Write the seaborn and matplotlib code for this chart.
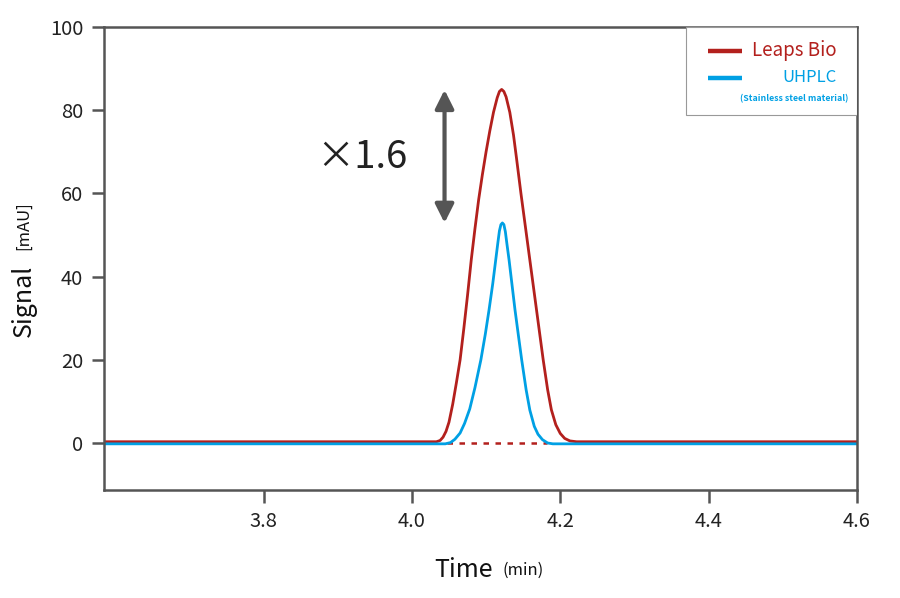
import numpy as np
import pandas as pd
import matplotlib
matplotlib.use("Agg")
import matplotlib.pyplot as plt
import seaborn as sns
from matplotlib.patches import Rectangle

# Data
leaps_time = [3.585, 4.033, 4.038, 4.042, 4.046, 4.050, 4.055, 4.060, 4.065, 4.070, 4.075,
              4.080, 4.085, 4.090, 4.095, 4.100, 4.105, 4.110, 4.115, 4.118, 4.121, 4.124,
              4.127, 4.132, 4.137, 4.141, 4.147, 4.153, 4.159, 4.165, 4.171, 4.177, 4.183,
              4.188, 4.194, 4.200, 4.206, 4.213, 4.222, 4.600]
leaps_signal = [0.3, 0.3, 0.6, 1.4, 2.8, 5.0, 9.3, 14.5, 20.0, 27.5, 35.5,
                44.0, 51.5, 58.5, 64.5, 70.0, 75.0, 79.5, 83.0, 84.5, 85.0, 84.5,
                83.2, 79.5, 74.0, 68.5, 60.0, 52.0, 44.0, 36.0, 28.0, 20.0, 12.8,
                8.0, 4.4, 2.3, 1.1, 0.5, 0.3, 0.3]

uhplc_time = [3.585, 4.045, 4.052, 4.058, 4.065, 4.071, 4.078, 4.085, 4.093, 4.099,
              4.104, 4.109, 4.113, 4.116, 4.118, 4.120, 4.122, 4.124, 4.126, 4.128,
              4.131, 4.135, 4.139, 4.144, 4.148, 4.154, 4.159, 4.165, 4.170, 4.176,
              4.183, 4.190, 4.600]
uhplc_signal = [-0.2, -0.2, 0.1, 0.9, 2.4, 4.7, 8.2, 13.3, 20.0, 26.2,
                32.0, 38.3, 44.0, 48.3, 51.0, 52.5, 52.9, 52.5, 50.8, 48.0,
                44.0, 38.0, 32.0, 25.3, 20.0, 12.8, 7.9, 4.0, 2.1, 0.8,
                0.0, -0.2, -0.2]

baseline_time = [4.047, 4.182]
baseline_signal = [0.0, 0.0]

x_ticks = [3.8, 4.0, 4.2, 4.4, 4.6]
y_ticks = [0, 20, 40, 60, 80, 100]
ratio_label = "×1.6"

red = "#b3201d"
blue = "#00a0e4"
grey = "#555555"

sns.set_style("ticks")
plt.rcParams["font.family"] = ["Noto Sans CJK JP", "DejaVu Sans"]

fig = plt.figure(figsize=(9, 5.98), dpi=100)
ax = fig.add_axes([0.1156, 0.1806, 0.8366, 0.7742])

df_leaps = pd.DataFrame({"Time": leaps_time, "Signal": leaps_signal})
df_uhplc = pd.DataFrame({"Time": uhplc_time, "Signal": uhplc_signal})
df_base = pd.DataFrame({"Time": baseline_time, "Signal": baseline_signal})

sns.lineplot(data=df_base, x="Time", y="Signal", ax=ax, color=red, lw=1.8,
             linestyle=(0, (2.2, 2.6)), sort=False, estimator=None)
sns.lineplot(data=df_leaps, x="Time", y="Signal", ax=ax, color=red, lw=2.0,
             sort=False, estimator=None)
sns.lineplot(data=df_uhplc, x="Time", y="Signal", ax=ax, color=blue, lw=2.0,
             sort=False, estimator=None)

ax.set_xlim(3.585, 4.6)
ax.set_ylim(-11.3, 100)
ax.set_xticks(x_ticks)
ax.set_xticklabels([f"{t:.1f}" for t in x_ticks])
ax.set_yticks(y_ticks)
ax.set_xlabel("")
ax.set_ylabel("")

for s in ax.spines.values():
    s.set_color(grey)
    s.set_linewidth(1.8)
    s.set_visible(True)
ax.tick_params(axis="both", direction="out", length=9, width=1.8, color=grey,
               labelsize=14.5, labelcolor="#222222", pad=6)

# double arrow and ratio
ax.annotate("", xy=(4.044, 84.9), xytext=(4.044, 52.9),
            arrowprops=dict(arrowstyle="<|-|>", color=grey, lw=3,
                            mutation_scale=28, shrinkA=0, shrinkB=0))
ax.text(3.933, 68.7, ratio_label, fontsize=27.5, color="#222222",
        ha="center", va="center")

# axis labels
fig.text(0.548, 0.047, "Time", fontsize=18, ha="right", va="center", color="#111111")
fig.text(0.558, 0.047, "(min)", fontsize=12, ha="left", va="center", color="#111111")
fig.text(0.026, 0.497, "Signal", fontsize=18, rotation=90, ha="center", va="center", color="#111111")
fig.text(0.026, 0.623, "[mAU]", fontsize=12, rotation=90, ha="center", va="center", color="#111111")

# legend box
ax.add_patch(Rectangle((0.773, 0.81), 0.227, 0.19, transform=ax.transAxes,
                       facecolor="white", edgecolor="#999999", lw=0.8, zorder=5))
ax.plot([0.802, 0.847], [0.948, 0.948], transform=ax.transAxes, color=red,
        lw=3.2, zorder=6, solid_capstyle="butt")
ax.text(0.861, 0.950, "Leaps Bio", transform=ax.transAxes, color=red,
        fontsize=13.5, ha="left", va="center", zorder=6)
ax.plot([0.802, 0.847], [0.890, 0.890], transform=ax.transAxes, color=blue,
        lw=3.2, zorder=6, solid_capstyle="butt")
ax.text(0.937, 0.892, "UHPLC", transform=ax.transAxes, color=blue,
        fontsize=12, ha="center", va="center", zorder=6)
ax.text(0.916, 0.845, "(Stainless steel material)", transform=ax.transAxes,
        color=blue, fontsize=6.3, fontweight="bold", ha="center", va="center", zorder=6)

fig.savefig("out.png", dpi=100)
